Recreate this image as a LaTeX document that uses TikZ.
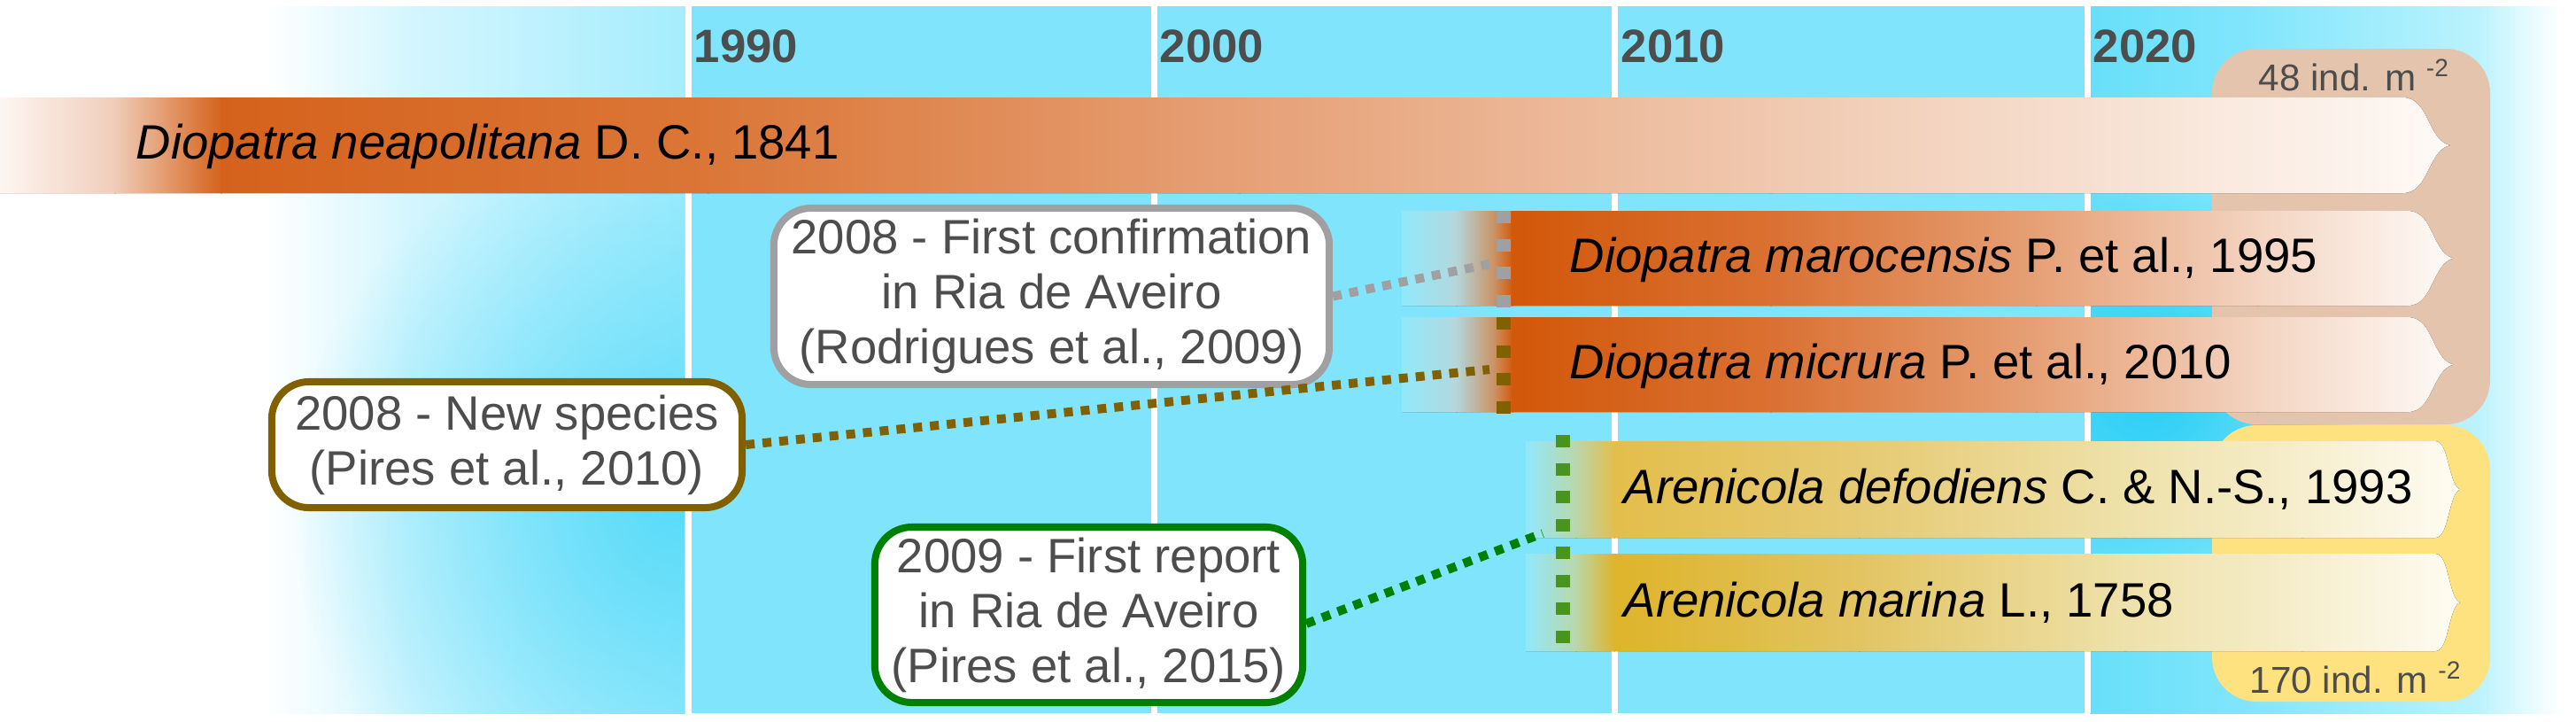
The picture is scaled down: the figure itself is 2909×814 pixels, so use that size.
\documentclass[tikz,border=0pt]{standalone}
\usepackage{fontspec}
\setmainfont{Liberation Sans}
\usetikzlibrary{fadings}
\definecolor{bgcyan}{RGB}{128,229,252}
\definecolor{lcA}{RGB}{212,246,254}
\definecolor{lcB}{RGB}{165,237,253}
\definecolor{spotL}{RGB}{90,219,249}
\definecolor{rcA}{RGB}{104,223,250}
\definecolor{rcB}{RGB}{130,230,252}
\definecolor{rcC}{RGB}{188,243,253}
\definecolor{spotR}{RGB}{40,206,245}
\definecolor{yeartext}{RGB}{77,77,77}
\definecolor{tanc}{RGB}{229,196,173}
\definecolor{yelc}{RGB}{255,226,128}
\definecolor{graydot}{RGB}{160,160,162}
\definecolor{olivedot}{RGB}{128,96,0}
\definecolor{greendot}{RGB}{0,128,0}
\definecolor{greenv}{RGB}{72,148,28}
% neapolitana
\definecolor{nA}{RGB}{253,246,242}
\definecolor{nB}{RGB}{240,205,185}
\definecolor{nC}{RGB}{213,98,28}
\definecolor{nD}{RGB}{219,118,55}
\definecolor{nE}{RGB}{230,160,118}
\definecolor{nF}{RGB}{240,200,175}
\definecolor{nG}{RGB}{247,226,212}
\definecolor{nH}{RGB}{255,251,248}
% short diopatra
\definecolor{dA}{RGB}{145,233,252}
\definecolor{dB}{RGB}{180,215,220}
\definecolor{dC}{RGB}{205,140,90}
\definecolor{dD}{RGB}{210,88,10}
\definecolor{dE}{RGB}{218,112,50}
\definecolor{dF}{RGB}{230,160,118}
\definecolor{dG}{RGB}{243,212,193}
\definecolor{dH}{RGB}{255,252,250}
% arenicola
\definecolor{aA}{RGB}{145,233,252}
\definecolor{aB}{RGB}{185,215,170}
\definecolor{aC}{RGB}{228,190,75}
\definecolor{aD}{RGB}{230,202,115}
\definecolor{aE}{RGB}{238,225,170}
\definecolor{aF}{RGB}{246,238,205}
\definecolor{aG}{RGB}{255,253,245}
\definecolor{mC}{RGB}{222,180,42}
\definecolor{mD}{RGB}{226,196,98}
\tikzfading[name=softspot, inner color=transparent!0, outer color=transparent!100]
\newcommand\gseg[6]{\fill[left color=#3, right color=#4] (#1-1,#5) rectangle (#2+1,#6);}
\newcommand\speciesbar[5]{%
\pgfmathsetmacro\sbd{#3-#2}%
\pgfmathsetmacro\sbh{#5-#4}%
\pgfmathsetmacro\sbm{(#4+#5)/2}%
\pgfmathsetmacro\sbxa{#2+0.3*\sbd}%
\pgfmathsetmacro\sbxb{#2+0.42*\sbd}%
\pgfmathsetmacro\sbxc{#2+0.55*\sbd}%
\pgfmathsetmacro\sbxd{#2+0.7*\sbd}%
\pgfmathsetmacro\sbxe{#2+0.8*\sbd}%
\pgfmathsetmacro\sbya{#4+0.12*\sbh}%
\pgfmathsetmacro\sbyb{#4+0.25*\sbh}%
\pgfmathsetmacro\sbyc{#4+0.4*\sbh}%
\pgfmathsetmacro\sbyd{\sbm-0.02*\sbh}%
\pgfmathsetmacro\sbyA{#5-0.12*\sbh}%
\pgfmathsetmacro\sbyB{#5-0.25*\sbh}%
\pgfmathsetmacro\sbyC{#5-0.4*\sbh}%
\pgfmathsetmacro\sbyD{\sbm+0.02*\sbh}%
\clip (#1,#4) -- (#2,#4) .. controls (\sbxa,#4) and (\sbxb,\sbya) .. (\sbxc,\sbyb) .. controls (\sbxd,\sbyc) and (\sbxe,\sbyd) .. (#3,\sbm) .. controls (\sbxe,\sbyD) and (\sbxd,\sbyC) .. (\sbxc,\sbyB) .. controls (\sbxb,\sbyA) and (\sbxa,#5) .. (#2,#5) -- (#1,#5) -- cycle;}
\tikzset{
  yearline/.style={white, line width=0.07cm},
  yearlabel/.style={anchor=base west, inner sep=0, text=yeartext, font=\bfseries\fontsize{15}{18}\selectfont},
  species/.style={anchor=base west, inner sep=0, text=black, font=\fontsize{15.5}{18}\selectfont},
  density/.style={anchor=base west, inner sep=0, text=yeartext, font=\fontsize{12}{14}\selectfont},
  callout/.style={rectangle, rounded corners=0.42cm, fill=white, line width=0.08cm, align=center, inner sep=0, text=yeartext, font=\fontsize{15.5}{17.6}\selectfont},
  dotconn/.style={line width=0.1cm, dash pattern=on 0.1cm off 0.09cm},
  vdots/.style={line width=0.16cm, dash pattern=on 0.14cm off 0.175cm}
}
\begin{document}
\begin{tikzpicture}[x=0.01cm,y=-0.01cm]
\useasboundingbox (0,0) rectangle (2909,814);
% background
\fill[bgcyan] (0,7) rectangle (2909,805);
\fill[white] (0,7) rectangle (301,805);
\gseg{300}{460}{white}{lcA}{7}{805}
\gseg{460}{773}{lcA}{lcB}{7}{805}
\begin{scope}
\clip (0,7) rectangle (773,805);
\fill[spotL, path fading=softspot] (760,570) circle (4.3cm);
\end{scope}
\gseg{2361}{2550}{rcA}{rcB}{7}{805}
\gseg{2550}{2800}{rcB}{rcC}{7}{805}
\gseg{2800}{2890}{rcC}{white}{7}{805}
\fill[white] (2889,7) rectangle (2909,805);
\begin{scope}
\clip (2361,7) rectangle (2909,805);
\fill[spotR, path fading=softspot] (2430,440) circle (2.3cm);
\end{scope}
% year lines
\foreach \yx in {777,1303,1823,2357} \draw[yearline] (\yx,7) -- (\yx,805);
\node[yearlabel] (y1990) at (783,70) {1990};
\node[yearlabel] (y2000) at (1309,70) {2000};
\node[yearlabel] (y2010) at (1830,70) {2010};
\node[yearlabel] (y2020) at (2363,70) {2020};
% density boxes
\fill[tanc, rounded corners=0.5cm] (2498,55) rectangle (2812,479);
\fill[yelc, rounded corners=0.5cm] (2498,480) rectangle (2812,792);
\node[density] (dens48) at (2550,102) {48 ind. m \textsuperscript{-2}};
\node[density] (dens170) at (2540,782) {170 ind. m \textsuperscript{-2}};
% bar: Diopatra neapolitana
\begin{scope}
\speciesbar{0}{2713}{2767}{110}{218}
\gseg{0}{130}{nA}{nB}{100}{230}
\gseg{130}{250}{nB}{nC}{100}{230}
\gseg{250}{800}{nC}{nD}{100}{230}
\gseg{800}{1400}{nD}{nE}{100}{230}
\gseg{1400}{2000}{nE}{nF}{100}{230}
\gseg{2000}{2400}{nF}{nG}{100}{230}
\gseg{2400}{2780}{nG}{nH}{100}{230}
\end{scope}
\node[species] (neap) at (153,179) {\textit{Diopatra neapolitana} D. C., 1841};
% bar: Diopatra marocensis
\begin{scope}
\speciesbar{1583}{2719}{2771}{238}{345}
\gseg{1583}{1645}{dA}{dB}{230}{355}
\gseg{1645}{1690}{dB}{dC}{230}{355}
\gseg{1690}{1708}{dC}{dD}{230}{355}
\gseg{1708}{2000}{dD}{dE}{230}{355}
\gseg{2000}{2300}{dE}{dF}{230}{355}
\gseg{2300}{2550}{dF}{dG}{230}{355}
\gseg{2550}{2780}{dG}{dH}{230}{355}
\end{scope}
\node[species] (maro) at (1772,307) {\textit{Diopatra marocensis} P. et al., 1995};
% bar: Diopatra micrura
\begin{scope}
\speciesbar{1583}{2719}{2771}{358}{465}
\gseg{1583}{1645}{dA}{dB}{350}{475}
\gseg{1645}{1690}{dB}{dC}{350}{475}
\gseg{1690}{1708}{dC}{dD}{350}{475}
\gseg{1708}{2000}{dD}{dE}{350}{475}
\gseg{2000}{2300}{dE}{dF}{350}{475}
\gseg{2300}{2550}{dF}{dG}{350}{475}
\gseg{2550}{2780}{dG}{dH}{350}{475}
\end{scope}
\node[species] (micr) at (1772,427) {\textit{Diopatra micrura} P. et al., 2010};
% bar: Arenicola defodiens
\begin{scope}
\speciesbar{1723}{2750}{2778}{498}{607}
\gseg{1723}{1780}{aA}{aB}{490}{615}
\gseg{1780}{1823}{aB}{aC}{490}{615}
\gseg{1823}{2100}{aC}{aD}{490}{615}
\gseg{2100}{2400}{aD}{aE}{490}{615}
\gseg{2400}{2600}{aE}{aF}{490}{615}
\gseg{2600}{2790}{aF}{aG}{490}{615}
\end{scope}
\node[species] (defo) at (1833,568) {\textit{Arenicola defodiens} C. \& N.-S., 1993};
% bar: Arenicola marina
\begin{scope}
\speciesbar{1723}{2750}{2778}{625}{735}
\gseg{1723}{1780}{aA}{aB}{615}{745}
\gseg{1780}{1823}{aB}{mC}{615}{745}
\gseg{1823}{2100}{mC}{mD}{615}{745}
\gseg{2100}{2400}{mD}{aE}{615}{745}
\gseg{2400}{2600}{aE}{aF}{615}{745}
\gseg{2600}{2790}{aF}{aG}{615}{745}
\end{scope}
\node[species] (mari) at (1833,696) {\textit{Arenicola marina} L., 1758};
% callouts
\node[callout, draw=graydot, minimum width=6.27cm, minimum height=1.99cm] (box1) at (1187.5,334.5) {2008 - First confirmation\\in Ria de Aveiro\\(Rodrigues et al., 2009)};
\node[callout, draw=olivedot, minimum width=5.31cm, minimum height=1.42cm] (box2) at (572.5,502) {2008 - New species\\(Pires et al., 2010)};
\node[callout, draw=greendot, minimum width=4.83cm, minimum height=1.98cm] (box3) at (1229.5,694) {2009 - First report\\in Ria de Aveiro\\(Pires et al., 2015)};
% connectors
\coordinate (maroend) at (1682,298);
\coordinate (micrend) at (1682,417);
\coordinate (arenend) at (1742,602);
\draw[dotconn, graydot] (box1.east) -- (maroend);
\draw[dotconn, olivedot] (box2.east) -- (micrend);
\draw[dotconn, greendot] ([yshift=-0.1cm]box3.east) -- (arenend);
\draw[vdots, graydot] (1698,238) -- (1698,349);
\draw[vdots, olivedot] (1698,358) -- (1698,469);
\draw[vdots, greenv] (1765,491) -- (1765,739);
\end{tikzpicture}
\end{document}
